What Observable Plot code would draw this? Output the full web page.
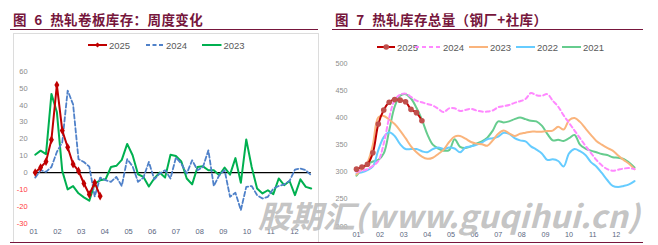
<!DOCTYPE html>
<html><head><meta charset="utf-8">
<script src="https://cdn.jsdelivr.net/npm/d3@7"></script>
<script src="https://cdn.jsdelivr.net/npm/@observablehq/plot@0.6"></script>
<style>
body{margin:0;background:#fff;}
#root{position:relative;width:658px;height:245px;overflow:hidden;background:#fff;font-family:"Liberation Sans Narrow","Liberation Sans",Arial,sans-serif;}
.title{position:absolute;top:9px;font-family:"Noto Sans CJK SC",sans-serif;font-weight:bold;font-size:13.5px;color:#76163c;letter-spacing:0.4px;word-spacing:4px;white-space:nowrap;line-height:20px;}
.uline{position:absolute;top:29px;height:0;border-top:1.5px solid #76163c;}
.box{position:absolute;left:13px;top:33px;width:304px;height:209px;border:1px solid #dcdcdc;border-bottom:none;}
.leg{position:absolute;display:flex;align-items:center;font-size:9.5px;color:#595959;white-space:nowrap;}
.leg svg{display:block;margin-right:2px;}
.plot{position:absolute;top:55px;}
</style></head><body>
<div id="root"></div>
<script>
// ---------- data ----------
const months = ["01","02","03","04","05","06","07","08","09","10","11","12"];
const leftYTicks = [60,50,40,30,20,10,0,-10,-20,-30];
const rightYTicks = [500,450,400,350,300,250,200];

// 图6 weekly change
const left2025 = [0,3,6.5,19.5,52,25,15,5,1,-6.5,-13,-6,-14];
const left2024 = [-3,1.4,0.4,3.3,12.2,18,48.7,40.5,8,6.3,3.5,-14.2,-3,-4.5,-5.5,-2.6,-8,8,3.7,-5.5,-3,6.3,-4,-0.6,1.4,-3.5,8.9,5.3,-0.6,7.3,1.4,3.3,13.2,-8,-1.6,1.4,-14.4,-12,-22.3,-8.5,-8,-13.4,-15.4,-14.4,-9.5,-8,-7,-5,1.8,2.4,1.4,-1.6];
const left2023 = [10.6,13,11,46.7,36,1,-10,-8,-12.3,-14.7,-16.7,-6.5,-4.6,-4,3.3,4,7.5,17,10.3,-1,-2.6,-8.3,-3.5,0,-3,10.6,9.8,6.6,-3.5,-7,3.3,3.7,1.4,1.4,-1.6,3,-1.2,8.6,-6.1,19.7,3.3,-9.5,-12.4,-10.5,-12.8,-3.5,-7.5,-5,-13.4,-4,-8.5,-9.5];

// 图7 total inventory
const right2025 = [305,309,314,335,388,414,428,433,432,429,415,409,394];
const right2024 = [300,302,305,311,320,352,400,432,442,444,438,431,428,425,422,416,410,417,417,412,414,416,413,411,411,413,419,421,423,427,430,434,445,441,440,443,431,420,404,390,376,362,348,335,322,312,305,302,304,306,307,305];
const right2023 = [295,305,317,350,400,403,396,388,376,362,347,336,328,324,326,333,341,355,365,366,361,355,352,351,348,358,370,376,371,366,370,372,374,374,374,375,376,383,378,395,399,392,380,368,357,350,344,339,330,322,315,305];
const right2022 = [297,299,303,310,340,364,373,366,351,342,342,342,338,336,342,345,342,345,343,336,345,347,350,354,360,362,365,372,370,362,358,356,347,341,334,322,323,320,310,334,342,338,331,318,310,298,285,274,272,274,277,283];
const right2021 = [293,305,314,319,322,334,376,420,440,443,435,418,396,369,350,343,339,340,360,346,344,347,352,356,363,376,393,391,393,397,400,397,394,393,385,370,358,359,357,362,368,350,343,339,336,333,331,327,326,324,317,308];

// ---------- helpers ----------
const rows = vals => vals.map((v, i) => ({w: i, v}));
const root = document.getElementById("root");
function add(html){ root.insertAdjacentHTML("beforeend", html); }

// titles and frames
add(`<div class="title" style="left:13px">图 6 热轧卷板库存：周度变化</div>`);
add(`<div class="title" style="left:335px">图 7 热轧库存总量（钢厂+社库）</div>`);
add(`<div class="uline" style="left:10px;width:308px"></div>`);
add(`<div class="uline" style="left:332px;width:311px"></div>`);
add(`<div class="box"></div>`);
add(`<div style="position:absolute;left:10px;top:242px;width:633px;border-top:1.5px solid #76163c"></div>`);

function legend(x, y, w, color, text, opts = {}) {
  const dash = opts.dash ? `stroke-dasharray="${opts.dash}"` : "";
  let marker = "";
  if (opts.marker === "diamond") marker = `<path d="M${w/2},${5-2.6} L${w/2+2.6},5 L${w/2},${5+2.6} L${w/2-2.6},5Z" fill="${color}"/>`;
  if (opts.marker === "circle") marker = `<circle cx="${w/2}" cy="5" r="2.8" fill="${opts.mfill || color}"/>`;
  add(`<div class="leg" style="left:${x}px;top:${y-5}px;height:10px"><svg width="${w}" height="10"><line x1="0" x2="${w}" y1="5" y2="5" stroke="${color}" stroke-width="2" ${dash}/>${marker}</svg><span>${text}</span></div>`);
}
legend(88, 45, 19, "#c00000", "2025", {marker: "diamond"});
legend(145.5, 45, 18.5, "#4f81c9", "2024", {dash: "4,2.5"});
legend(202, 45, 19.5, "#00b050", "2023");

legend(376.5, 47, 18.5, "#c00000", "2025", {marker: "circle", mfill: "#c0504d"});
legend(415, 47, 26, "#ff88ff", "2024", {dash: "4,3"});
legend(469, 47, 19, "#fab47c", "2023");
legend(516, 47, 19, "#66ccff", "2022");
legend(562, 47, 19, "#66cc8e", "2021");

// ---------- left chart ----------
const leftMonthTicks = months.map((m, i) => ({pos: -0.26 + i * 4.378, label: m}));
const leftPlot = Plot.plot({
  width: 330, height: 190,
  marginLeft: 34.7, marginRight: 19.3, marginTop: 16, marginBottom: 22.4,
  x: {domain: [0, 51], axis: null},
  y: {domain: [-30, 60], axis: null},
  color: {type: "identity"},
  style: {background: "transparent", overflow: "visible"},
  marks: [
    Plot.ruleY([0], {x1: -0.3, x2: 51, stroke: "#000", strokeWidth: 1.2}),
    Plot.line(rows(left2023), {x: "w", y: "v", stroke: "#00b050", strokeWidth: 2}),
    Plot.line(rows(left2024), {x: "w", y: "v", stroke: "#4f81c9", strokeWidth: 1.8, strokeDasharray: "4.5,2.5"}),
    Plot.line(rows(left2025), {x: "w", y: "v", stroke: "#c00000", strokeWidth: 2}),
    Plot.dot(rows(left2025), {x: "w", y: "v", symbol: "diamond", r: 2.6, fill: "#c00000"}),
    Plot.text(leftYTicks, {y: d => d, text: d => String(d), frameAnchor: "left", dx: -7.5, textAnchor: "end",
      fill: d => d < 0 ? "#ff3b3b" : "#8c8c8c", fontSize: 7.5, fontFamily: "Liberation Sans Narrow, Liberation Sans, sans-serif"}),
    Plot.text(leftMonthTicks, {x: "pos", text: "label", frameAnchor: "bottom", dy: 10.7,
      fill: "#5a6680", fontSize: 7.5, fontFamily: "Liberation Sans Narrow, Liberation Sans, sans-serif"})
  ]
});
leftPlot.classList.add("plot");
leftPlot.style.left = "0px";
root.appendChild(leftPlot);

// ---------- right chart ----------
const rightMonthTicks = months.map((m, i) => ({pos: i * 4.333, label: m}));
const rightPlot = Plot.plot({
  width: 328, height: 190,
  marginLeft: 26, marginRight: 24, marginTop: 7.7, marginBottom: 19.3,
  x: {domain: [0, 51], axis: null},
  y: {domain: [200, 500], axis: null},
  color: {type: "identity"},
  style: {background: "transparent", overflow: "visible"},
  marks: [
    Plot.line(rows(right2021), {x: "w", y: "v", stroke: "#66cc8e", strokeWidth: 2, curve: "catmull-rom"}),
    Plot.line(rows(right2022), {x: "w", y: "v", stroke: "#66ccff", strokeWidth: 2, curve: "catmull-rom"}),
    Plot.line(rows(right2023), {x: "w", y: "v", stroke: "#fab47c", strokeWidth: 2, curve: "catmull-rom"}),
    Plot.line(rows(right2024), {x: "w", y: "v", stroke: "#ff88ff", strokeWidth: 2, strokeDasharray: "4,3", curve: "catmull-rom"}),
    Plot.line(rows(right2025), {x: "w", y: "v", stroke: "#c00000", strokeWidth: 2, curve: "catmull-rom"}),
    Plot.dot(rows(right2025), {x: "w", y: "v", r: 2.8, fill: "#c0504d"}),
    Plot.text(rightYTicks, {y: d => d, text: d => String(d), frameAnchor: "left", dx: -9, textAnchor: "end",
      fill: "#8c8c8c", fontSize: 7.2, fontFamily: "Liberation Sans Narrow, Liberation Sans, sans-serif"}),
    Plot.text(rightMonthTicks, {x: "pos", text: "label", frameAnchor: "bottom", dy: 11,
      fill: "#5a6680", fontSize: 7.2, fontFamily: "Liberation Sans Narrow, Liberation Sans, sans-serif"})
  ]
});
rightPlot.classList.add("plot");
rightPlot.style.left = "330px";
root.appendChild(rightPlot);

// watermark
add(`<svg style="position:absolute;left:0;top:0;pointer-events:none" width="658" height="245"><text x="258" y="228" font-size="31" font-weight="bold" font-style="italic" fill="#bdbdbd" fill-opacity="0.9" textLength="382" lengthAdjust="spacingAndGlyphs" font-family="Noto Sans CJK SC, sans-serif">股期汇(www.guqihui.cn)</text></svg>`);
</script>
</body></html>
